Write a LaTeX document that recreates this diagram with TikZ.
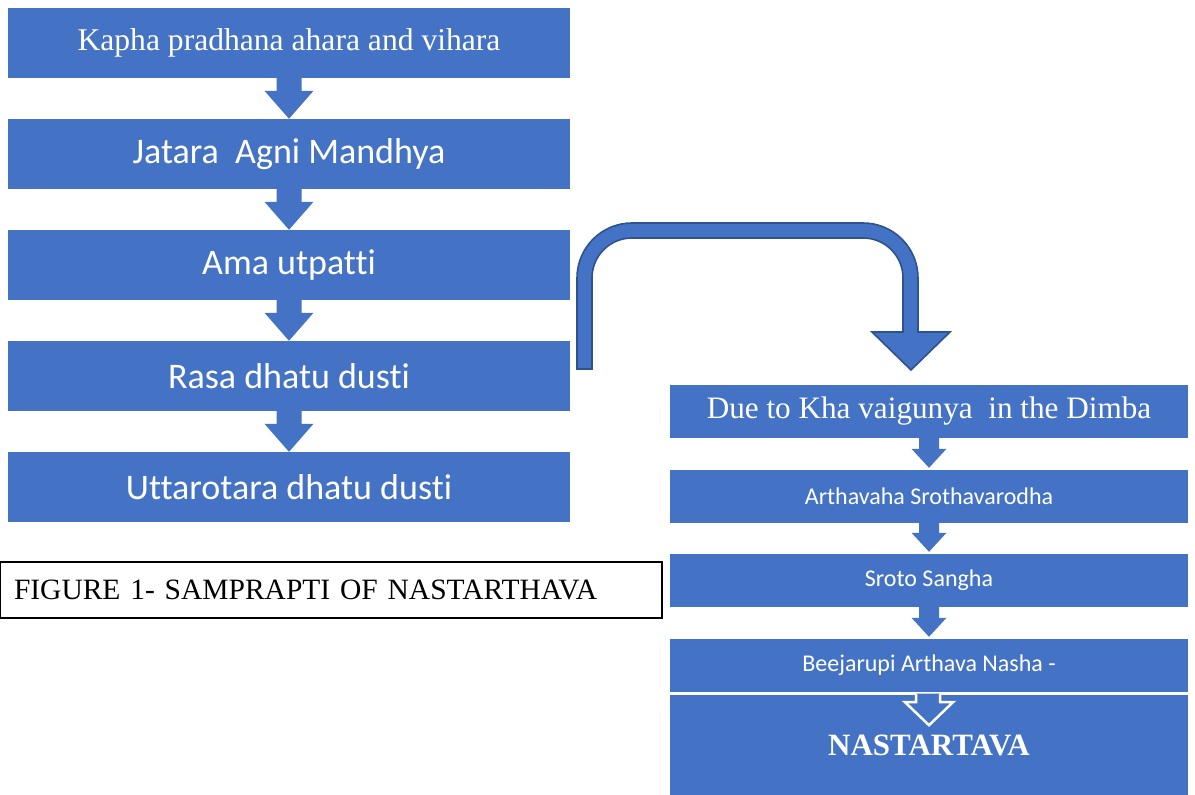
\documentclass[tikz,border=0pt]{standalone}
\usepackage{fontspec}
\setmainfont{Liberation Serif}
\newfontfamily\calib[Ligatures=NoCommon]{Carlito}
\usetikzlibrary{calc}
\definecolor{boxblue}{HTML}{4472C4}
\definecolor{navyedge}{HTML}{2F528F}
\tikzset{
  lbox/.style={fill=boxblue, text=white, minimum width=562pt, minimum height=70pt, inner sep=0pt},
  rbox/.style={fill=boxblue, text=white, minimum width=518pt, minimum height=53pt, inner sep=0pt},
  capbox/.style={draw=black, line width=1.1pt, minimum height=56pt, text width=634pt, inner xsep=14pt, inner ysep=0pt, align=left},
}
% block arrow from node #1 (south) to node #2 (north): shaft half #3, head half #4, head height #5, gap at tip #6
\newcommand\blockarr[6]{%
  \fill[boxblue] let \p1=(#1.south), \p2=(#2.north) in
    (\x1-#3pt,\y1) -- (\x1-#3pt,\y2+#6pt+#5pt) -- (\x1-#4pt,\y2+#6pt+#5pt) -- (\x1,\y2+#6pt)
    -- (\x1+#4pt,\y2+#6pt+#5pt) -- (\x1+#3pt,\y2+#6pt+#5pt) -- (\x1+#3pt,\y1) -- cycle;}
\begin{document}
\begin{tikzpicture}[x=1pt,y=1pt]
\useasboundingbox (0,0) rectangle (1195,795);
% left column
\node[lbox, font=\fontsize{31.6}{36}\selectfont] (l1) at (289,752) {Kapha pradhana ahara and vihara};
\node[lbox, font=\calib\fontsize{36}{42}\selectfont] (l2) at (289,641) {Jatara\ \ Agni Mandhya};
\node[lbox, font=\calib\fontsize{36}{42}\selectfont] (l3) at (289,530) {Ama utpatti};
\node[lbox, font=\calib\fontsize{36}{42}\selectfont] (l4) at (289,419) {Rasa dhatu dusti};
\node[lbox, font=\calib\fontsize{36}{42}\selectfont] (l5) at (289,308) {Uttarotara dhatu dusti};
\blockarr{l1}{l2}{12.5}{24.5}{28}{0}
\blockarr{l2}{l3}{12.5}{24.5}{28}{0}
\blockarr{l3}{l4}{12.5}{24.5}{28}{0}
\blockarr{l4}{l5}{12.5}{24.5}{28}{0}
% caption
\node[capbox, font=\fontsize{29.5}{34}\selectfont] (cap) at (331,205) {FIGURE 1- SAMPRAPTI OF NASTARTHAVA};
% right column
\node[rbox, font=\fontsize{31.2}{36}\selectfont] (r1) at (929,383.5) {Due to Kha vaigunya\ \ in the Dimba};
\node[rbox, font=\calib\fontsize{24}{28}\selectfont] (r2) at (929,298.5) {Arthavaha Srothavarodha};
\node[rbox, font=\calib\fontsize{24}{28}\selectfont] (r3) at (929,214.5) {Sroto Sangha};
\node[rbox, font=\calib\fontsize{24}{28}\selectfont] (r4) at (929,129.5) {Beejarupi Arthava Nasha -};
\node[rbox, minimum height=100pt, font=\bfseries\fontsize{31}{36}\selectfont] (r5) at (929,50) {NASTARTAVA};
\blockarr{r1}{r2}{10}{17.5}{19}{2}
\blockarr{r2}{r3}{10}{17.5}{19}{2}
\blockarr{r3}{r4}{10}{17.5}{19}{2}
% white outlined arrow into last box
\fill[boxblue] let \p1=(r4.south) in
  (\x1-13pt,\y1-1.5pt) -- (\x1-13pt,\y1-10pt) -- (\x1-24pt,\y1-10pt) -- (\x1,\y1-33pt)
  -- (\x1+24pt,\y1-10pt) -- (\x1+11pt,\y1-10pt) -- (\x1+11pt,\y1-1.5pt) -- cycle;
\draw[white, line width=2.5pt, line join=miter] let \p1=(r4.south) in
  (\x1-13pt,\y1-1.5pt) -- (\x1-13pt,\y1-10pt) -- (\x1-24pt,\y1-10pt) -- (\x1,\y1-33pt)
  -- (\x1+24pt,\y1-10pt) -- (\x1+11pt,\y1-10pt) -- (\x1+11pt,\y1-1.5pt);
% curved connector arrow
\filldraw[fill=boxblue, draw=navyedge, line width=1.6pt, line join=miter]
  (577,426) -- (577,517) arc[start angle=180, end angle=90, radius=55] -- (863,572)
  arc[start angle=90, end angle=0, radius=55] -- (918,463) -- (950,463) -- (911,425)
  -- (872,463) -- (903,463) -- (903,517) arc[start angle=0, end angle=90, radius=40]
  -- (632,557) arc[start angle=90, end angle=180, radius=40] -- (592,426) -- cycle;
\end{tikzpicture}
\end{document}
